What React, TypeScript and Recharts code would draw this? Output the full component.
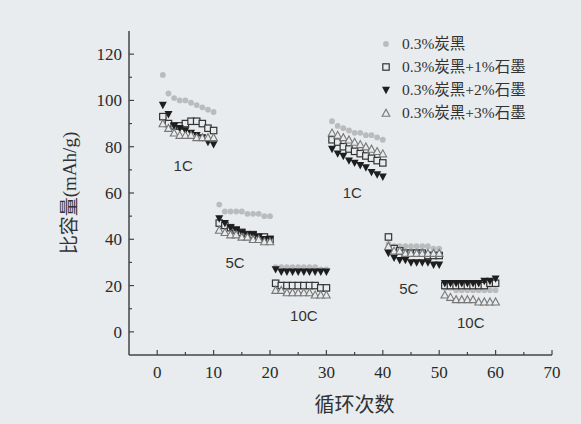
import { ScatterChart, Scatter, XAxis, YAxis, ReferenceDot } from 'recharts';

// 比容量 (mAh/g) per cycle, cycles 1..60 (10 cycles per rate step)
const carbon = [
  111, 103, 101, 100, 100, 99, 98, 97, 96, 95,
  55, 52, 52, 52, 52, 51, 51, 51, 50, 50,
  28, 28, 28, 28, 28, 28, 28, 28, 27, 27,
  91, 89, 88, 87, 86, 86, 85, 85, 84, 83,
  38, 37, 37, 37, 37, 37, 37, 37, 36, 36,
  19, 19, 18, 18, 18, 18, 18, 18, 18, 18,
];
const graphite1 = [
  93, 90, 89, 89, 90, 91, 91, 90, 88, 87,
  47, 46, 45, 44, 43, 42, 42, 41, 41, 40,
  21, 20, 20, 20, 20, 20, 20, 20, 19, 19,
  83, 82, 80, 79, 78, 77, 76, 75, 74, 73,
  41, 36, 35, 34, 34, 34, 34, 33, 33, 33,
  20, 20, 20, 20, 20, 20, 20, 20, 21, 21,
];
const graphite2 = [
  98, 94, 89, 88, 87, 86, 85, 84, 82, 81,
  49, 47, 45, 44, 43, 42, 42, 41, 40, 40,
  27, 26, 26, 26, 26, 26, 26, 26, 26, 26,
  79, 77, 76, 74, 73, 72, 71, 69, 68, 67,
  34, 32, 31, 31, 30, 30, 30, 30, 29, 29,
  21, 21, 21, 21, 21, 21, 21, 22, 22, 23,
];
const graphite3 = [
  90, 88, 86, 85, 85, 85, 84, 84, 84, 84,
  44, 43, 42, 42, 41, 41, 40, 40, 39, 39,
  18, 18, 17, 17, 17, 17, 17, 16, 16, 16,
  86, 85, 84, 83, 82, 81, 80, 79, 78, 77,
  37, 35, 35, 34, 34, 34, 34, 34, 34, 34,
  16, 15, 14, 14, 14, 14, 13, 13, 13, 13,
];

const seriesNames = ['0.3%炭黑', '0.3%炭黑+1%石墨', '0.3%炭黑+2%石墨', '0.3%炭黑+3%石墨'];

const xTicks = [0, 5, 10, 15, 20, 25, 30, 35, 40, 45, 50, 55, 60, 65, 70];
const yTicks = [0, 10, 20, 30, 40, 50, 60, 70, 80, 90, 100, 110, 120];

const rateLabels = [
  { x: 4.6, y: 72, text: '1C' },
  { x: 13.8, y: 30, text: '5C' },
  { x: 26, y: 7, text: '10C' },
  { x: 34.6, y: 60, text: '1C' },
  { x: 44.6, y: 18.5, text: '5C' },
  { x: 55.6, y: 4, text: '10C' },
];

const BG = '#e8ecee';
const INK = '#2a2a2a';
const SERIF = '"Liberation Serif", "DejaVu Serif", serif';
const CJK = '"Liberation Serif", "Noto Sans CJK SC", serif';

const toPoints = (vals: number[]) => vals.map((v, i) => ({ cycle: i + 1, cap: v }));

const Dot = ({ cx, cy }: any) => <circle cx={cx} cy={cy} r={2.9} fill="#b9bbbd" />;
const Square = ({ cx, cy }: any) => (
  <rect x={cx - 3.2} y={cy - 3.2} width={6.4} height={6.4} fill={BG} stroke="#333" strokeWidth={1.2} />
);
const TriDown = ({ cx, cy }: any) => (
  <path d={`M${cx - 4},${cy - 3.2} L${cx + 4},${cy - 3.2} L${cx},${cy + 4.2} Z`} fill="#1e1e1e" />
);
const TriUp = ({ cx, cy }: any) => (
  <path d={`M${cx - 3.8},${cy + 3.2} L${cx + 3.8},${cy + 3.2} L${cx},${cy - 3.8} Z`} fill={BG} stroke="#777" strokeWidth={1.1} />
);

const shapes = [Dot, Square, TriDown, TriUp];

const XTick = ({ x, y, payload }: any) => {
  const major = payload.value % 10 === 0;
  return (
    <g>
      <line x1={x} y1={y} x2={x} y2={y - (major ? 5 : 3)} stroke="#444" strokeWidth={1.2} />
      {major && (
        <text x={x} y={y + 23} textAnchor="middle" fontSize={17} fontFamily={SERIF} fill={INK}>
          {payload.value}
        </text>
      )}
    </g>
  );
};

const YTick = ({ x, y, payload }: any) => {
  const major = payload.value % 20 === 0;
  return (
    <g>
      <line x1={x} y1={y} x2={x + (major ? 5 : 3)} y2={y} stroke="#444" strokeWidth={1.2} />
      {major && (
        <text x={x - 7} y={y + 6} textAnchor="end" fontSize={17} fontFamily={SERIF} fill={INK}>
          {payload.value}
        </text>
      )}
    </g>
  );
};

const LegendBox = () => (
  <div
    style={{
      position: 'absolute',
      top: 32,
      left: 378,
      fontFamily: CJK,
      fontSize: 15.5,
      color: '#333',
      lineHeight: '23px',
    }}
  >
    {seriesNames.map((name, i) => {
      const Shape = shapes[i];
      return (
        <div key={name} style={{ display: 'flex', alignItems: 'center', whiteSpace: 'nowrap' }}>
          <svg width={22} height={14} style={{ marginRight: 2 }}>
            <Shape cx={8} cy={7} />
          </svg>
          <span>{name}</span>
        </div>
      );
    })}
  </div>
);

const frame = { stroke: '#444', strokeWidth: 1.5 };

export default function App() {
  const data = [carbon, graphite1, graphite2, graphite3].map(toPoints);
  return (
    <div style={{ position: 'absolute', left: 0, top: 0, width: 581, height: 424, background: BG }}>
      <ScatterChart width={581} height={424} margin={{ top: 31, right: 29, left: 0, bottom: 0 }}>
        <XAxis
          xAxisId="b"
          type="number"
          dataKey="cycle"
          domain={[-5, 70]}
          ticks={xTicks}
          interval={0}
          height={69}
          tickSize={0}
          tickMargin={0}
          tickLine={false}
          tick={<XTick />}
          axisLine={frame}
          label={({ viewBox }: any) => (
            <text
              x={viewBox.x + viewBox.width / 2 + 14}
              y={viewBox.y + 57}
              textAnchor="middle"
              fontSize={20}
              fontFamily='"Noto Sans CJK SC", sans-serif'
              fill="#333"
            >
              循环次数
            </text>
          )}
        />
        <XAxis xAxisId="t" orientation="top" type="number" dataKey="cycle" domain={[-5, 70]} height={0} tick={false} tickLine={false} axisLine={frame} />
        <YAxis
          yAxisId="l"
          type="number"
          dataKey="cap"
          domain={[-10, 130]}
          ticks={yTicks}
          interval={0}
          width={129}
          tickSize={0}
          tickMargin={0}
          tickLine={false}
          tick={<YTick />}
          axisLine={frame}
          label={({ viewBox }: any) => {
            const cx = viewBox.x + 72;
            const cy = viewBox.y + viewBox.height / 2;
            return (
              <text
                x={cx}
                y={cy}
                transform={`rotate(-90 ${cx} ${cy})`}
                textAnchor="middle"
                dominantBaseline="middle"
                fontSize={19}
                fontFamily={CJK}
                fill="#333"
              >
                比容量(mAh/g)
              </text>
            );
          }}
        />
        <YAxis yAxisId="r" orientation="right" type="number" dataKey="cap" domain={[-10, 130]} width={0} tick={false} tickLine={false} axisLine={frame} />
        {data.map((pts, i) => (
          <Scatter
            key={seriesNames[i]}
            name={seriesNames[i]}
            data={pts}
            xAxisId="b"
            yAxisId="l"
            shape={shapes[i] as any}
            isAnimationActive={false}
          />
        ))}
        {rateLabels.map((l, i) => (
          <ReferenceDot
            key={i}
            xAxisId="b"
            yAxisId="l"
            x={l.x}
            y={l.y}
            r={0}
            fill="none"
            stroke="none"
            label={{ value: l.text, position: 'center', fontSize: 15, fill: '#333', fontFamily: '"Liberation Sans", Arial, sans-serif' }}
          />
        ))}
      </ScatterChart>
      <LegendBox />
    </div>
  );
}
